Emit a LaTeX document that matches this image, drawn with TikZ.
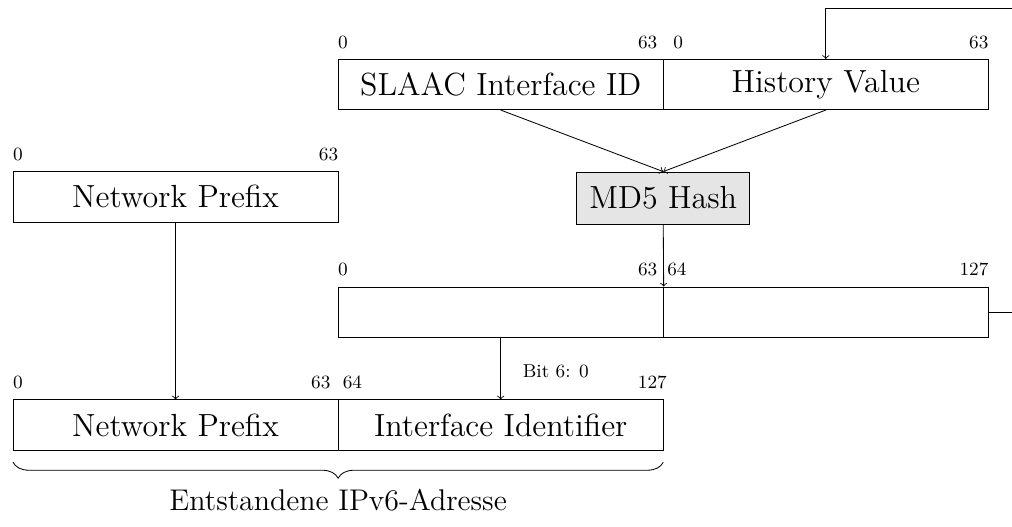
\documentclass[tikz,border=0pt]{standalone}
\usetikzlibrary{decorations.pathreplacing}

% field labels are a little larger than \Large
\newcommand{\fld}[1]{\scalebox{1.07}{#1}}

\begin{document}
\begin{tikzpicture}[
		field/.style = {draw, minimum width = 55mm, minimum height = 8.5mm, inner sep = 0mm, font = \Large},
		bitnum/.style = {font = \small, inner xsep = 0mm, inner ysep = 1.7mm},
		>=to
	]
	% frame
	\useasboundingbox (-2.2mm, 0mm) rectangle (169mm, 89mm);
	
	% hash input
	\node[field] (slaac) at (82.5mm, 74.7mm) {\fld{SLAAC Interface ID}};
	\node[field] (history) at (137.5mm, 74.7mm) {\fld{History Value}};
	\node[field, fill = black!10, minimum width = 29.3mm, minimum height = 8.8mm] (md5) at (110mm, 55.5mm) {\fld{MD5 Hash}};
	
	% prefix and digest
	\node[field] (prefix) at (27.5mm, 55.7mm) {\fld{Network Prefix}};
	\node[field] (digestlo) at (82.5mm, 36.2mm) {};
	\node[field] (digesthi) at (137.5mm, 36.2mm) {};
	
	% resulting address
	\node[field] (netprefix) at (27.5mm, 17.1mm) {\fld{Network Prefix}};
	\node[field] (iid) at (82.5mm, 17.1mm) {\fld{Interface Identifier}};
	
	% bit numbers
	\node[bitnum, anchor = south west] (slaaclo) at (slaac.north west) {0};
	\node[bitnum, anchor = south east, xshift = -1mm] (slaachi) at (slaac.north east) {63};
	\node[bitnum, anchor = south west, xshift = 1.7mm] (historylo) at (history.north west) {0};
	\node[bitnum, anchor = south east] (historyhi) at (history.north east) {63};
	\node[bitnum, anchor = south west] (prefixlo) at (prefix.north west) {0};
	\node[bitnum, anchor = south east] (prefixhi) at (prefix.north east) {63};
	\node[bitnum, anchor = south west] (digestlo0) at (digestlo.north west) {0};
	\node[bitnum, anchor = south east, xshift = -1mm] (digestlo63) at (digestlo.north east) {63};
	\node[bitnum, anchor = south west, xshift = 0.7mm] (digesthi64) at (digesthi.north west) {64};
	\node[bitnum, anchor = south east] (digesthi127) at (digesthi.north east) {127};
	\node[bitnum, anchor = south west] (netprefixlo) at (netprefix.north west) {0};
	\node[bitnum, anchor = south east, xshift = -1.3mm] (netprefixhi) at (netprefix.north east) {63};
	\node[bitnum, anchor = south west, xshift = 0.8mm] (iidlo) at (iid.north west) {64};
	\node[bitnum, anchor = south east, xshift = 0.6mm] (iidhi) at (iid.north east) {127};
	
	% arrows
	\draw[->] (slaac.south) -- (md5.north);
	\draw[->] (history.south) -- (md5.north);
	\draw[->] (md5.south) -- (digestlo.north east);
	\draw[->] (digestlo.south) -- node[right, xshift = 2.5mm, yshift = -0.5mm, font = \small] (bitsix) {Bit 6: 0} (iid.north);
	\draw[->] (prefix.south) -- (netprefix.north);
	
	% feedback into history
	\coordinate (loop) at (175mm, 87.5mm);
	\draw[->] (digesthi.east) -| (loop) -| (history.north);
	
	% brace
	\coordinate (bracel) at (0mm, 10.8mm);
	\coordinate (bracer) at (110mm, 10.8mm);
	\draw[decorate, decoration = {brace, mirror, amplitude = 2.7mm}] (bracel) -- (bracer);
	\node[font = \Large] (result) at (55mm, 4.4mm) {Entstandene IPv6-Adresse};
	
\end{tikzpicture}
\end{document}
